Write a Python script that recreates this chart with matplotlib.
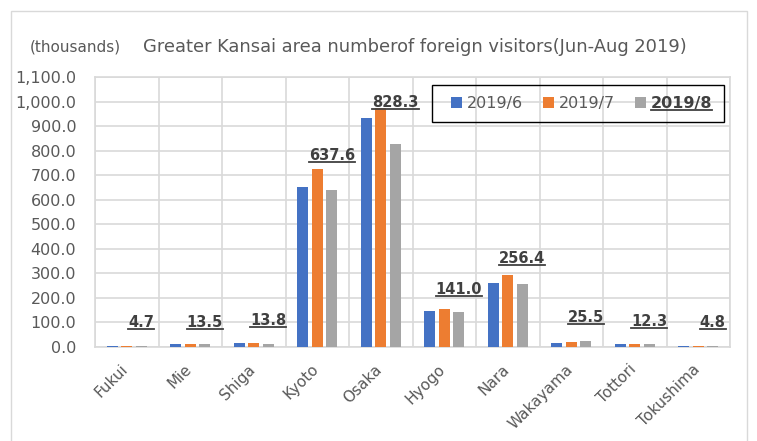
import matplotlib
matplotlib.use("Agg")
import matplotlib.pyplot as plt
import numpy as np
from matplotlib.lines import Line2D
from matplotlib.patches import Rectangle

prefectures = ["Fukui", "Mie", "Shiga", "Kyoto", "Osaka", "Hyogo", "Nara",
               "Wakayama", "Tottori", "Tokushima"]
jun = [4.0, 12.5, 17.0, 650.0, 933.0, 146.0, 262.0, 17.0, 11.5, 4.0]
jul = [5.0, 13.0, 17.5, 727.0, 974.0, 155.0, 292.0, 22.0, 12.0, 5.0]
aug = [4.7, 13.5, 13.8, 637.6, 828.3, 141.0, 256.4, 25.5, 12.3, 4.8]
series_names = ["2019/6", "2019/7", "2019/8"]
yticks = np.arange(0, 1100.1, 100)

# label lift above the bar top, in pixels (hand placed in the original)
label_lift = [23, 21, 23, 35, 41, 23, 26, 23, 22, 23]

colors = ["#4472c4", "#ed7d31", "#a5a5a5"]
grid_c = "#d9d9d9"
txt_c = "#595959"
lab_c = "#404040"

fig = plt.figure(figsize=(7.57, 4.41), dpi=100)
fig.patches.append(Rectangle((11 / 757, -0.05), 736 / 757, 1 - 11 / 441 + 0.05,
                             transform=fig.transFigure, fill=False,
                             edgecolor="#d9d9d9", lw=1))
ax = fig.add_axes([95 / 757, 1 - 347 / 441, 635 / 757, 270 / 441])

x = np.arange(len(prefectures))
step, w = 0.23, 0.17
for i, (vals, c, name) in enumerate(zip([jun, jul, aug], colors, series_names)):
    ax.bar(x + (i - 1) * step, vals, width=w, color=c, label=name, zorder=3)

ax.set_xlim(-0.5, len(prefectures) - 0.5)
ax.set_ylim(0, 1100)
ax.set_yticks(yticks)
ax.set_yticklabels([f"{v:,.1f}" for v in yticks], fontsize=11.5, color=txt_c)
ax.set_xticks(x)
ax.set_xticklabels([])
# category names drawn by hand so the rotated text sits like Excel's
for xi, name in zip(x, prefectures):
    ax.annotate(name, (xi, 0), xycoords=("data", "axes fraction"),
                xytext=(-1 * 0.72, -20 * 0.72), textcoords="offset points",
                ha="right", va="center", rotation=45, rotation_mode="anchor",
                fontsize=11, color=txt_c, annotation_clip=False)
ax.set_xticks(np.arange(-0.5, len(prefectures)), minor=True)
ax.tick_params(axis="both", which="both", length=0)
ax.tick_params(axis="y", pad=13.5)
ax.grid(axis="y", which="major", color=grid_c, lw=1.2, zorder=0)
ax.grid(axis="x", which="minor", color=grid_c, lw=1.2, zorder=0)
for s in ax.spines.values():
    s.set_color(grid_c)
    s.set_linewidth(1.2)

labels = []
for xi, v, lift in zip(x, aug, label_lift):
    t = ax.annotate(f"{v:.1f}", (xi + step, v), xytext=(0, lift * 0.72),
                    textcoords="offset points", ha="center", va="center",
                    fontsize=10.5, fontweight="bold", color=lab_c, zorder=5)
    labels.append(t)

# legend without its own frame, boxed by hand like the original
leg = fig.legend(*ax.get_legend_handles_labels(), ncol=3, loc="center",
                 bbox_to_anchor=(581.5 / 757, 1 - 103.5 / 441),
                 frameon=False, fontsize=11.5, handlelength=0.7, handleheight=0.7,
                 handletextpad=0.3, columnspacing=1.25, borderpad=0.2)
for t in leg.get_texts():
    t.set_color(txt_c)
leg.get_texts()[2].set_fontweight("bold")
leg.get_texts()[2].set_color(lab_c)
fig.patches.append(Rectangle((432 / 757, 1 - 122 / 441), 292 / 757, 37 / 441,
                             transform=fig.transFigure, fill=False,
                             edgecolor="black", lw=1.0, zorder=4))

fig.text(30 / 757, 1 - 47 / 441, "(thousands)", fontsize=11, color=txt_c, va="center")
fig.text(143 / 757, 1 - 47 / 441, "Greater Kansai area numberof foreign visitors(Jun-Aug 2019)",
         fontsize=12.9, color=txt_c, va="center")

# underline data labels and the bold legend entry
fig.canvas.draw()
r = fig.canvas.get_renderer()
inv = fig.transFigure.inverted()
for t in labels + [leg.get_texts()[2]]:
    bb = t.get_window_extent(r)
    (x0, y0), (x1, _) = inv.transform([(bb.x0, bb.y0 + 1), (bb.x1, bb.y0 + 1)])
    fig.add_artist(Line2D([x0, x1], [y0, y0], transform=fig.transFigure,
                          color=t.get_color(), lw=1.3, zorder=6))

fig.savefig("out.png", dpi=100)
